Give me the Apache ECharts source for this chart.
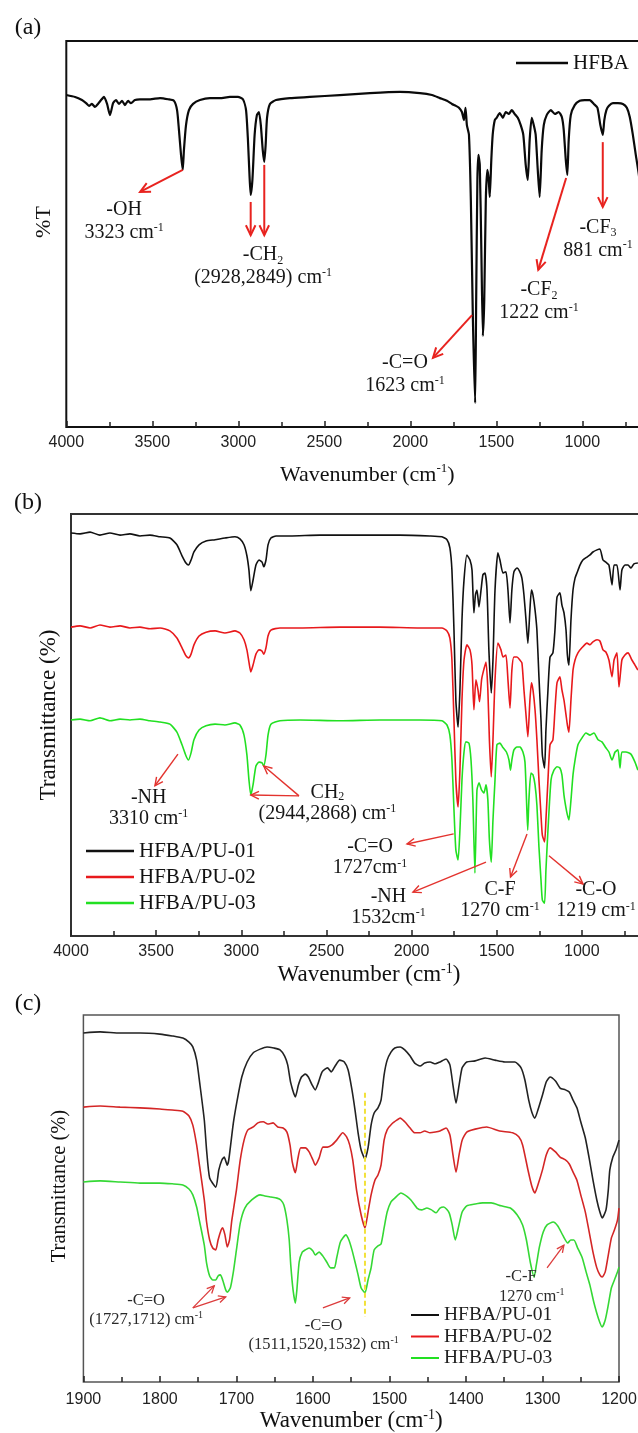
<!DOCTYPE html>
<html>
<head>
<meta charset="utf-8">
<script src="https://cdn.jsdelivr.net/npm/echarts@6/dist/echarts.min.js"></script>
<style>
html,body{margin:0;padding:0;background:#fff}
#chart{width:638px;height:1433px}
</style>
</head>
<body>
<div id="chart"></div>
<script>
const SERIF = '"Liberation Serif", "Times New Roman", serif';
const SANS = '"Liberation Sans", Arial, sans-serif';

// ---- (a) HFBA, [wavenumber cm-1, transmittance] ----
const hfba = [[4000,86.0],[3949,85.5],[3909,84.7],[3885,83.9],[3868,83.2],[3851,83.7],[3833,82.9],[3816,83.7],[3798,84.7],[3781,85.5],[3763,83.7],[3746,80.8],[3728,83.9],[3711,84.7],[3694,83.7],[3676,84.5],[3659,83.4],[3641,84.5],[3624,83.9],[3601,84.7],[3572,84.9],[3513,84.9],[3455,85.2],[3408,84.9],[3374,84.5],[3356,82.1],[3345,76.9],[3333,70.5],[3323,66.6],[3316,71.8],[3304,78.2],[3287,82.1],[3263,83.7],[3223,84.7],[3165,85.2],[3107,85.2],[3049,85.5],[3002,85.5],[2973,84.9],[2955,82.1],[2944,74.4],[2935,65.3],[2928,60.1],[2918,64.0],[2905,75.7],[2892,80.8],[2880,81.6],[2869,78.2],[2858,71.8],[2849,68.7],[2841,73.1],[2833,80.1],[2816,83.7],[2781,84.7],[2700,85.2],[2584,85.5],[2410,86.0],[2235,86.5],[2061,86.8],[1944,86.5],[1874,86.0],[1828,85.2],[1787,84.5],[1758,83.7],[1735,83.2],[1717,82.7],[1700,81.6],[1688,79.5],[1679,82.7],[1671,78.2],[1659,75.7],[1648,58.8],[1636,27.7],[1623,6.2],[1617,32.9],[1610,64.0],[1604,70.5],[1596,67.9],[1587,45.9],[1578,23.6],[1570,32.9],[1561,58.8],[1552,66.6],[1544,64.0],[1538,59.6],[1529,69.2],[1521,75.7],[1509,79.5],[1498,80.1],[1480,81.3],[1462,80.1],[1445,81.6],[1427,81.1],[1410,82.1],[1393,81.1],[1375,80.1],[1358,78.2],[1343,75.7],[1329,67.9],[1317,64.0],[1306,74.4],[1294,80.1],[1282,78.2],[1271,75.7],[1259,66.6],[1248,59.6],[1236,71.8],[1224,78.2],[1207,80.8],[1183,82.1],[1160,81.1],[1137,81.6],[1119,80.3],[1108,77.0],[1096,69.2],[1087,65.3],[1079,74.4],[1067,80.8],[1044,83.4],[1015,84.5],[986,84.7],[957,84.7],[933,83.7],[912,82.7],[895,78.2],[881,75.7],[872,79.5],[860,82.1],[845,83.2],[822,83.9],[793,83.9],[764,83.7],[741,82.7],[724,80.3],[706,75.7],[689,70.5],[671,65.3],[654,58.8]];

// ---- (b) HFBA/PU films, 4000-650 cm-1 ----
const pu01Full = [[4000,95.5],[3947,95.3],[3888,95.7],[3830,95.0],[3771,95.5],[3712,95.0],[3654,95.3],[3595,94.8],[3536,95.0],[3477,94.6],[3419,94.3],[3378,92.7],[3348,90.1],[3325,88.4],[3310,87.9],[3295,89.1],[3278,91.0],[3248,92.7],[3207,93.6],[3154,93.9],[3096,94.3],[3037,94.6],[3008,94.1],[2984,92.7],[2967,90.1],[2955,86.7],[2944,81.8],[2931,84.3],[2914,87.9],[2896,89.1],[2878,88.6],[2868,87.5],[2855,89.1],[2843,92.7],[2826,94.3],[2796,94.8],[2714,94.8],[2538,95.0],[2303,95.0],[2068,95.0],[1892,94.8],[1822,94.6],[1792,93.9],[1775,92.0],[1763,86.7],[1751,72.5],[1740,55.9],[1727,49.5],[1716,58.3],[1704,74.9],[1692,84.4],[1675,90.3],[1657,89.1],[1645,86.7],[1634,76.6],[1625,80.8],[1616,82.0],[1604,78.0],[1592,82.0],[1581,85.6],[1569,86.0],[1557,82.0],[1546,67.8],[1532,57.6],[1522,65.4],[1510,82.0],[1493,90.8],[1481,89.1],[1463,86.0],[1446,86.3],[1434,82.0],[1422,74.2],[1411,82.0],[1399,86.3],[1381,87.2],[1364,86.3],[1352,84.8],[1340,80.8],[1328,74.9],[1317,69.4],[1305,77.3],[1296,82.0],[1287,80.8],[1275,77.3],[1264,72.5],[1252,61.4],[1240,51.2],[1232,42.9],[1219,39.8],[1211,48.8],[1199,58.3],[1187,66.1],[1170,67.1],[1158,72.5],[1146,80.3],[1129,81.3],[1117,78.4],[1105,76.6],[1093,72.5],[1085,66.6],[1076,64.2],[1064,74.9],[1052,82.0],[1040,84.8],[1029,86.0],[1011,87.9],[994,89.1],[970,89.8],[952,90.3],[935,91.0],[911,91.5],[894,91.7],[876,89.1],[859,88.6],[841,87.9],[823,83.2],[811,87.9],[794,87.9],[776,82.0],[765,86.7],[747,87.9],[729,87.9],[712,87.2],[694,88.2],[671,88.4]];
const pu02Full = [[4000,73.2],[3947,73.5],[3888,73.0],[3830,73.7],[3771,73.2],[3712,73.5],[3654,73.0],[3595,73.2],[3536,72.8],[3477,73.0],[3419,72.3],[3378,70.6],[3348,68.3],[3325,66.4],[3310,65.9],[3295,66.8],[3278,69.0],[3248,71.1],[3207,72.0],[3154,72.3],[3096,71.8],[3037,72.3],[3008,71.8],[2984,70.2],[2967,67.8],[2955,64.9],[2944,62.6],[2931,64.2],[2914,66.8],[2896,67.8],[2878,67.5],[2868,66.8],[2855,68.3],[2843,71.1],[2826,72.5],[2773,73.0],[2655,73.0],[2420,73.2],[2186,73.2],[1951,73.0],[1822,73.0],[1792,72.3],[1775,70.6],[1763,65.4],[1751,51.2],[1740,37.0],[1727,30.6],[1716,39.3],[1704,55.9],[1692,65.4],[1675,69.0],[1657,67.8],[1645,64.2],[1634,53.6],[1622,60.7],[1610,58.3],[1601,55.5],[1589,60.7],[1581,62.3],[1563,64.9],[1552,58.3],[1543,46.5],[1532,37.7],[1522,46.5],[1510,60.7],[1493,69.4],[1475,67.8],[1463,66.1],[1446,66.6],[1434,60.7],[1422,54.0],[1411,63.0],[1399,66.1],[1381,66.1],[1364,65.4],[1352,64.7],[1340,58.3],[1328,52.4],[1317,47.2],[1305,55.9],[1296,60.0],[1287,58.3],[1275,53.6],[1264,46.5],[1252,37.0],[1240,28.7],[1232,23.9],[1219,22.3],[1211,27.5],[1199,37.0],[1187,45.3],[1170,46.5],[1158,53.6],[1146,60.0],[1129,61.4],[1117,58.3],[1105,55.9],[1093,52.4],[1085,50.0],[1076,48.3],[1064,55.9],[1052,63.0],[1040,65.4],[1023,67.1],[1000,68.3],[970,69.4],[952,69.0],[935,69.7],[911,70.2],[894,69.9],[876,67.8],[859,67.3],[841,65.4],[823,61.4],[811,65.4],[794,67.1],[782,59.0],[765,65.4],[747,66.6],[729,67.1],[706,65.4],[688,64.2],[671,63.0]];
const pu03Full = [[4000,51.2],[3947,51.4],[3888,51.0],[3830,51.7],[3771,51.0],[3712,51.4],[3654,51.2],[3595,51.4],[3536,51.0],[3477,50.7],[3419,50.2],[3378,48.3],[3348,45.3],[3325,42.7],[3310,41.7],[3295,43.4],[3278,46.5],[3248,48.8],[3207,49.8],[3154,50.2],[3096,50.0],[3037,50.5],[3008,50.0],[2984,47.6],[2967,42.9],[2955,37.0],[2944,33.4],[2931,35.8],[2914,40.3],[2896,41.2],[2878,41.0],[2868,40.3],[2855,42.9],[2843,47.6],[2826,50.2],[2773,51.0],[2655,51.2],[2420,51.0],[2186,51.2],[1951,51.2],[1822,51.0],[1792,50.0],[1775,47.6],[1763,41.7],[1751,29.9],[1740,20.4],[1727,18.0],[1716,25.1],[1704,37.0],[1692,43.6],[1681,46.0],[1663,45.7],[1651,41.7],[1640,32.2],[1628,14.9],[1616,34.6],[1604,36.3],[1589,34.6],[1575,33.9],[1563,35.8],[1552,32.2],[1543,22.8],[1532,17.5],[1522,27.5],[1510,37.0],[1499,45.3],[1481,45.7],[1466,44.8],[1443,43.6],[1428,41.7],[1419,39.3],[1411,41.7],[1399,44.1],[1381,44.8],[1364,44.8],[1346,43.6],[1334,41.2],[1325,32.2],[1318,25.1],[1311,32.2],[1299,38.6],[1287,38.2],[1275,35.8],[1264,31.0],[1252,21.1],[1240,13.3],[1232,8.5],[1219,7.8],[1211,15.6],[1199,25.1],[1181,37.0],[1164,39.3],[1146,40.1],[1129,39.8],[1117,38.2],[1105,33.4],[1093,30.3],[1085,28.7],[1076,27.5],[1064,32.2],[1052,38.2],[1040,41.7],[1023,45.3],[1000,46.9],[976,48.1],[952,47.6],[929,48.1],[905,46.5],[882,46.0],[859,44.6],[841,43.6],[823,41.7],[805,43.6],[788,44.1],[776,39.8],[765,43.6],[741,43.6],[712,43.1],[688,41.2],[671,39.3]];

// ---- (c) same films, 1900-1200 cm-1 ----
const pu01Detail = [[1900,95.1],[1878,95.4],[1852,95.1],[1826,95.1],[1800,94.8],[1784,94.3],[1770,93.7],[1762,92.6],[1757,91.3],[1752,87.7],[1748,81.5],[1742,71.4],[1739,63.2],[1735,55.6],[1727,53.1],[1723,57.8],[1719,60.5],[1716,61.3],[1712,59.1],[1710,60.5],[1704,70.6],[1699,76.8],[1693,83.1],[1686,87.2],[1678,89.7],[1669,90.7],[1660,91.3],[1651,91.0],[1643,90.5],[1637,88.8],[1633,86.4],[1629,81.5],[1623,77.7],[1619,80.9],[1615,83.1],[1610,83.9],[1606,83.1],[1601,80.9],[1597,79.6],[1593,81.5],[1588,84.5],[1581,85.6],[1576,84.5],[1571,86.1],[1565,87.7],[1559,87.2],[1554,85.0],[1549,79.6],[1545,74.1],[1541,67.9],[1537,63.2],[1532,60.8],[1528,63.8],[1524,70.0],[1520,73.3],[1515,74.7],[1511,76.8],[1507,83.7],[1503,87.7],[1498,89.9],[1493,91.0],[1486,91.3],[1480,90.5],[1473,88.8],[1467,86.9],[1460,86.1],[1454,86.9],[1447,87.2],[1440,86.7],[1434,87.2],[1426,88.0],[1421,86.4],[1417,80.9],[1413,76.0],[1409,80.9],[1405,85.6],[1399,87.2],[1388,87.5],[1375,88.3],[1362,87.7],[1349,87.2],[1336,87.2],[1328,85.6],[1323,82.3],[1318,76.8],[1314,73.6],[1310,71.9],[1306,74.1],[1300,78.2],[1295,81.8],[1290,83.1],[1283,82.0],[1277,80.1],[1270,79.6],[1265,79.0],[1260,76.8],[1255,74.7],[1250,70.9],[1244,66.5],[1239,61.0],[1234,55.0],[1229,49.6],[1225,46.3],[1222,44.7],[1217,46.9],[1214,52.3],[1212,57.8],[1208,61.3],[1204,63.2],[1200,65.9]];
const pu02Detail = [[1900,74.9],[1878,75.2],[1852,74.9],[1826,74.7],[1800,74.4],[1784,74.1],[1770,73.8],[1762,72.5],[1757,70.0],[1752,64.6],[1748,58.6],[1742,49.6],[1739,43.6],[1735,38.7],[1731,36.5],[1727,36.0],[1724,38.7],[1720,41.4],[1718,42.0],[1715,40.1],[1712,36.8],[1709,38.7],[1706,44.1],[1700,52.3],[1695,60.5],[1690,65.9],[1685,68.7],[1678,69.5],[1672,70.6],[1665,70.9],[1659,70.3],[1652,70.6],[1646,69.5],[1639,69.2],[1634,68.1],[1630,64.6],[1627,59.9],[1623,57.0],[1620,60.5],[1616,63.8],[1610,63.8],[1605,62.7],[1600,60.5],[1597,59.1],[1592,61.0],[1587,64.0],[1581,64.0],[1575,64.6],[1569,65.9],[1561,67.9],[1556,66.8],[1552,64.6],[1548,60.5],[1543,52.3],[1537,45.5],[1532,42.0],[1528,46.3],[1524,51.0],[1519,55.0],[1515,56.4],[1511,59.1],[1507,65.9],[1503,68.7],[1497,70.3],[1490,71.4],[1486,71.9],[1480,70.9],[1473,69.2],[1467,67.9],[1460,67.9],[1454,68.4],[1447,67.9],[1440,68.1],[1434,68.4],[1426,69.2],[1421,67.3],[1417,61.9],[1413,57.2],[1409,61.9],[1405,65.9],[1399,68.1],[1388,68.9],[1373,69.5],[1356,68.4],[1339,67.9],[1331,66.8],[1326,64.6],[1319,57.8],[1314,53.4],[1310,51.5],[1306,53.7],[1300,57.8],[1295,61.9],[1290,63.8],[1283,62.7],[1277,61.3],[1270,60.5],[1265,59.4],[1260,57.2],[1255,55.0],[1250,51.0],[1244,46.3],[1239,40.9],[1234,35.4],[1229,31.1],[1225,29.2],[1222,28.6],[1218,30.0],[1214,34.6],[1210,39.2],[1206,41.4],[1202,44.1],[1200,47.4]];
const pu03Detail = [[1900,54.5],[1878,54.8],[1852,54.5],[1826,54.2],[1800,54.2],[1784,54.0],[1770,53.7],[1762,52.6],[1757,51.0],[1752,47.7],[1748,43.6],[1742,37.3],[1739,32.4],[1735,28.9],[1731,27.8],[1727,27.8],[1724,28.9],[1721,29.2],[1718,27.8],[1714,25.1],[1712,24.5],[1708,25.6],[1704,30.0],[1700,36.0],[1695,43.3],[1689,47.4],[1680,49.6],[1669,51.0],[1663,50.7],[1655,50.4],[1647,50.1],[1642,49.6],[1638,48.2],[1634,44.1],[1631,38.7],[1629,31.9],[1626,25.1],[1623,21.5],[1621,25.1],[1618,32.7],[1614,35.4],[1610,36.0],[1605,36.5],[1600,35.7],[1597,34.6],[1592,35.4],[1587,34.3],[1582,32.7],[1577,31.1],[1572,31.1],[1569,33.8],[1564,38.2],[1557,40.1],[1553,38.7],[1549,36.0],[1545,32.7],[1541,29.2],[1537,25.6],[1532,24.3],[1528,27.8],[1524,31.1],[1520,36.0],[1515,37.1],[1511,37.6],[1507,42.0],[1503,46.3],[1498,49.1],[1493,50.1],[1485,51.5],[1478,50.7],[1472,49.6],[1464,47.4],[1458,46.9],[1451,47.4],[1445,46.9],[1439,46.1],[1434,47.4],[1429,47.7],[1422,46.1],[1418,42.8],[1414,38.7],[1410,42.0],[1405,46.3],[1399,48.0],[1388,48.5],[1378,48.8],[1367,48.8],[1354,48.0],[1342,47.4],[1333,45.5],[1326,42.8],[1321,38.7],[1316,32.7],[1311,28.6],[1308,31.9],[1304,36.8],[1299,40.9],[1294,42.8],[1286,43.6],[1280,42.5],[1273,39.8],[1267,37.9],[1263,38.7],[1259,38.7],[1254,36.5],[1248,33.8],[1243,30.0],[1238,26.4],[1233,21.8],[1227,17.4],[1222,15.0],[1218,16.9],[1214,21.0],[1210,25.6],[1206,27.8],[1202,30.0],[1200,31.3]];
// dashed guide through the 1532 cm-1 band
const guide1532 = [[1532,78.8],[1532,17.7]];

// ---- annotations: arrows [fromWn, fromT, toWn, toT], labels [wn, T, text] ----
const arrowsA = [[3323,66.6,3571,60.9],[2928,58.3,2928,49.7],[2849,67.9,2849,49.7],[1641,29.0,1868,17.9],[1094,64.5,1256,40.7],[881,73.8,881,57.0]];
const labelsA = [[3664,53.2,'-OH\n3323 cm{sup|-1}'],[2856,41.6,'-CH{sub|2}\n(2928,2849) cm{sup|-1}'],[2031,13.6,'-C=O\n1623 cm{sup|-1}'],[1252,32.5,'-CF{sub|2}\n1222 cm{sup|-1}'],[909,48.7,'-CF{sub|3}\n881 cm{sup|-1}']];
const arrowsB = [[3372,43.1,3507,35.6],[2661,33.2,2944,33.4],[2661,33.2,2868,40.3],[1753,24.2,2027,21.8],[1563,17.5,1992,10.4],[1322,24.2,1419,14.0],[1193,19.0,993,12.3]];
const labelsB = [[3544,30.3,'-NH\n3310 cm{sup|-1}'],[2494,31.5,'CH{sub|2}\n(2944,2868) cm{sup|-1}'],[2244,18.6,'-C=O\n1727cm{sup|-1}'],[2136,6.9,'-NH\n1532cm{sup|-1}'],[1481,8.4,'C-F\n1270 cm{sup|-1}'],[917,8.4,'-C-O\n1219 cm{sup|-1}']];
const arrowsC = [[1757,20.2,1729,26.2],[1757,20.2,1714,23.2],[1587,20.2,1552,22.9],[1294,31.1,1272,37.3]];
const labelsC = [[1818,19.6,'-C=O\n(1727,1712) cm{sup|-1}'],[1586,12.8,'-C=O\n(1511,1520,1532) cm{sup|-1}'],[1328,28.6,'-C-F'],[1314,23.2,'1270 cm{sup|-1}']];

const seriesNames = ['HFBA/PU-01','HFBA/PU-02','HFBA/PU-03'];

function xAxisCfg(gi, min, max, interval, nameGap, nameSize, margin) {
  return {
    type: 'value', gridIndex: gi, min: min, max: max, interval: interval, inverse: true,
    name: 'Wavenumber (cm{sup|-1})', nameLocation: 'middle', nameGap: nameGap, nameMoveOverlap: false,
    nameTextStyle: {
      fontFamily: SERIF, fontSize: nameSize, color: '#111', lineHeight: 26,
      rich: { sup: { fontFamily: SERIF, fontSize: Math.round(nameSize * 0.6), lineHeight: 12, verticalAlign: 'top', color: '#111' } }
    },
    axisLine: { show: false },
    axisTick: { show: true, inside: true, length: 6, lineStyle: { color: '#222', width: 1.5 } },
    minorTick: { show: true, splitNumber: 2, length: 5, lineStyle: { color: '#222', width: 1.5 } },
    axisLabel: { fontFamily: SANS, fontSize: 16, color: '#222', margin: margin, formatter: function (v) { return String(v); } },
    splitLine: { show: false }, minorSplitLine: { show: false }
  };
}
function yAxisCfg(gi) {
  return { type: 'value', gridIndex: gi, min: 0, max: 100, axisLine: { show: false }, axisTick: { show: false }, axisLabel: { show: false }, splitLine: { show: false } };
}
function spectrum(name, data, gi, color, width) {
  return { type: 'line', name: name, data: data, xAxisIndex: gi, yAxisIndex: gi, showSymbol: false, symbol: 'none',
    smooth: 0.2, silent: true, lineStyle: { color: color, width: width }, itemStyle: { color: color } };
}

const chart = echarts.init(document.getElementById('chart'), null, { renderer: 'canvas' });

const option = {
  animation: false,
  backgroundColor: '#fff',
  textStyle: { fontFamily: SERIF },
  grid: [
    { left: 66.3, right: -30.3, top: 41, bottom: 1006, show: true, borderColor: '#111', borderWidth: 2, outerBoundsMode: 'none' },
    { left: 71, right: -29, top: 514, bottom: 497, show: true, borderColor: '#333', borderWidth: 2, outerBoundsMode: 'none' },
    { left: 83.4, right: 19, top: 1015, bottom: 51, show: true, borderColor: '#555', borderWidth: 1.5, outerBoundsMode: 'none' }
  ],
  xAxis: [
    xAxisCfg(0, 500, 4000, 500, 35, 22, 8),
    xAxisCfg(1, 500, 4000, 500, 26, 23, 8),
    xAxisCfg(2, 1200, 1900, 100, 26, 23, 10)
  ],
  yAxis: [yAxisCfg(0), yAxisCfg(1), yAxisCfg(2)],
  legend: [
    { data: ['HFBA'], left: 516, top: 51, padding: 0, icon: 'rect', itemWidth: 52, itemHeight: 2.5, selectedMode: false,
      textStyle: { fontFamily: SERIF, fontSize: 21, lineHeight: 24, color: '#111' } },
    { data: seriesNames, orient: 'vertical', left: 86, top: 839, padding: 0, icon: 'rect', itemWidth: 48, itemHeight: 2.5, itemGap: 2, selectedMode: false,
      textStyle: { fontFamily: SERIF, fontSize: 21, lineHeight: 24, color: '#111' } },
    { data: seriesNames, orient: 'vertical', left: 411, top: 1305, padding: 0, icon: 'rect', itemWidth: 28, itemHeight: 2, itemGap: 1.5, selectedMode: false,
      textStyle: { fontFamily: SERIF, fontSize: 19.5, lineHeight: 20, color: '#222' } }
  ],
  series: [
    spectrum('HFBA', hfba, 0, '#0a0a0a', 2.2),
    spectrum(seriesNames[0], pu01Full, 1, '#111111', 1.6),
    spectrum(seriesNames[1], pu02Full, 1, '#e8191c', 1.6),
    spectrum(seriesNames[2], pu03Full, 1, '#22e022', 1.6),
    spectrum(seriesNames[0], pu01Detail, 2, '#222222', 1.6),
    spectrum(seriesNames[1], pu02Detail, 2, '#d42626', 1.6),
    spectrum(seriesNames[2], pu03Detail, 2, '#35d835', 1.6),
    { type: 'line', name: 'guide', data: guide1532, xAxisIndex: 2, yAxisIndex: 2, showSymbol: false, symbol: 'none', silent: true,
      lineStyle: { color: '#f2e13a', width: 2, type: [5, 3] } }
  ]
};
chart.setOption(option);

// ---- annotation layer (arrows and band labels), placed through the axes ----
const styles = [
  { size: 20, lh: 23, color: '#161616', arrow: '#e8231f', aw: 2, head: 11 },
  { size: 20, lh: 21, color: '#161616', arrow: '#e3332e', aw: 1.4, head: 9 },
  { size: 16.5, lh: 19, color: '#2a2a2a', arrow: '#dc3c3c', aw: 1.3, head: 8 }
];
function richFor(st) {
  const small = Math.round(st.size * 0.62);
  return {
    sup: { fontFamily: SERIF, fontSize: small, lineHeight: Math.max(4, st.lh - 2 * 0.3 * st.size), verticalAlign: 'top', fill: st.color },
    sub: { fontFamily: SERIF, fontSize: small, lineHeight: Math.max(4, st.lh - 2 * 0.25 * st.size), verticalAlign: 'bottom', fill: st.color }
  };
}
const graphics = [];
function addArrows(gi, list) {
  const st = styles[gi];
  list.forEach(function (a) {
    const p0 = chart.convertToPixel({ gridIndex: gi }, [a[0], a[1]]);
    const p1 = chart.convertToPixel({ gridIndex: gi }, [a[2], a[3]]);
    const ang = Math.atan2(p1[1] - p0[1], p1[0] - p0[0]);
    const l = [p1[0] + st.head * Math.cos(ang + Math.PI - 0.45), p1[1] + st.head * Math.sin(ang + Math.PI - 0.45)];
    const r = [p1[0] + st.head * Math.cos(ang + Math.PI + 0.45), p1[1] + st.head * Math.sin(ang + Math.PI + 0.45)];
    graphics.push({ type: 'line', silent: true, z: 50, shape: { x1: p0[0], y1: p0[1], x2: p1[0], y2: p1[1] }, style: { stroke: st.arrow, lineWidth: st.aw } });
    graphics.push({ type: 'polyline', silent: true, z: 50, shape: { points: [l, p1, r] }, style: { stroke: st.arrow, lineWidth: st.aw, fill: null, lineJoin: 'miter' } });
  });
}
function addLabels(gi, list) {
  const st = styles[gi];
  list.forEach(function (t) {
    const p = chart.convertToPixel({ gridIndex: gi }, [t[0], t[1]]);
    graphics.push({ type: 'text', silent: true, z: 50, x: p[0], y: p[1],
      style: { text: t[2], fontFamily: SERIF, fontSize: st.size, lineHeight: st.lh, fill: st.color, align: 'center', verticalAlign: 'middle', rich: richFor(st) } });
  });
}
addArrows(0, arrowsA); addLabels(0, labelsA);
addArrows(1, arrowsB); addLabels(1, labelsB);
addArrows(2, arrowsC); addLabels(2, labelsC);

// panel letters and vertical axis titles
[['(a)', 28, 28], ['(b)', 28, 503], ['(c)', 28, 1004]].forEach(function (p) {
  graphics.push({ type: 'text', silent: true, x: p[1], y: p[2], style: { text: p[0], fontFamily: SERIF, fontSize: 24, fill: '#111', align: 'center', verticalAlign: 'middle' } });
});
[['%T', 44, 222, 22], ['Transmittance (%)', 49, 715, 23], ['Transmittance (%)', 60, 1186, 20.5]].forEach(function (p) {
  graphics.push({ type: 'text', silent: true, x: p[1], y: p[2], rotation: Math.PI / 2,
    style: { text: p[0], fontFamily: SERIF, fontSize: p[3], fill: '#111', align: 'center', verticalAlign: 'middle' } });
});

chart.setOption({ graphic: graphics });
</script>
</body>
</html>
